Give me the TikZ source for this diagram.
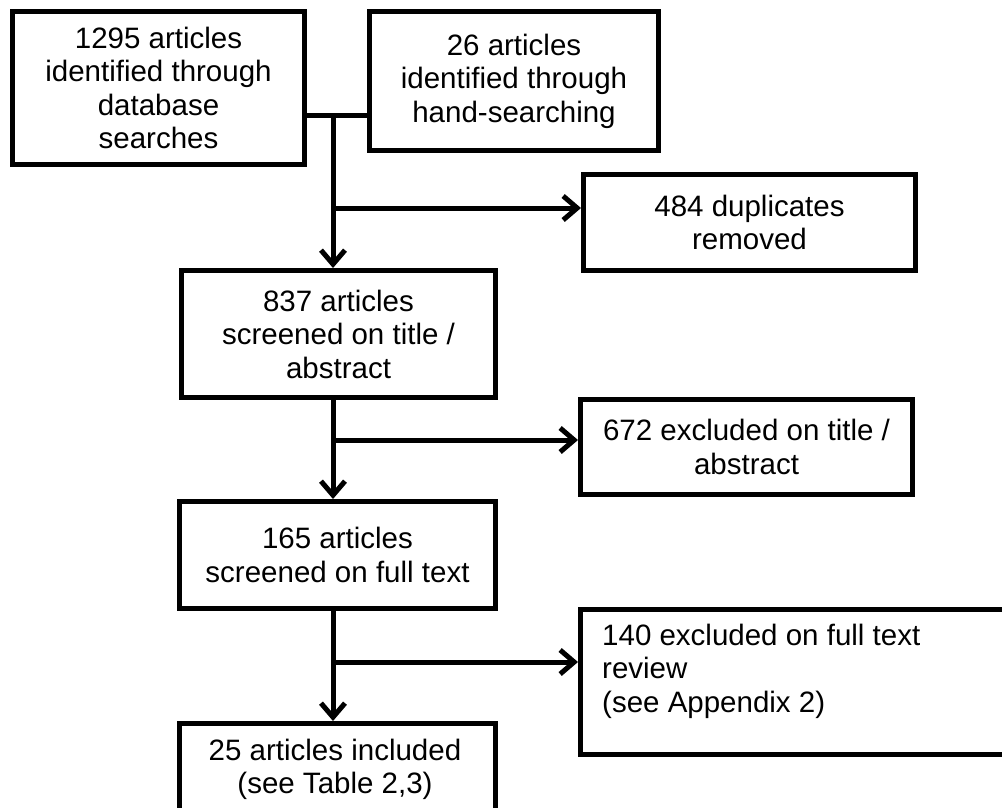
\documentclass[tikz,border=0pt]{standalone}
\usepackage{fontspec}
\setmainfont{Liberation Sans}
\usetikzlibrary{arrows.meta}
\begin{document}
\begin{tikzpicture}[x=1pt,y=-1pt,
  box/.style={draw, line width=5pt, inner sep=0pt, align=center, anchor=north west,
    font=\fontsize{29.5}{33.5}\selectfont},
  txt/.style={inner sep=0pt, font=\fontsize{29.5}{33.5}\selectfont},
  conn/.style={line width=5pt},
  arr/.style={conn, -{Straight Barb[length=14pt,width=24pt,line width=5pt]}}]
\useasboundingbox (0,0) rectangle (1002,807);
\node[box, minimum width=292pt, minimum height=153pt] (b1) at (10,9)
  {1295 articles\\identified through\\database\\searches};
\node[box, minimum width=289pt, minimum height=139pt] (b2) at (367,9)
  {26 articles\\identified through\\hand-searching};
\node[box, minimum width=332pt, minimum height=96pt] (b484) at (581,172)
  {484 duplicates\\removed};
\node[box, minimum width=314pt, minimum height=127pt] (b3) at (179,268)
  {837 articles\\screened on title /\\abstract};
\node[box, minimum width=332pt, minimum height=95pt] (b672) at (578,397)
  {672 excluded on title /\\abstract};
\node[box, minimum width=316pt, minimum height=107pt] (b4) at (177,499)
  {165 articles\\screened on full text};
\node[box, minimum width=460pt, minimum height=145pt] (b140) at (578,607) {};
\node[txt, anchor=north west, align=left] (t140) at (602,623.5)
  {140 excluded on full text\\review\\(see Appendix 2)};
\node[box, minimum width=316pt, minimum height=120pt] (b6) at (177,721) {};
\node[txt, anchor=north, align=center] (t6) at (335,738.5)
  {25 articles included\\(see Table 2,3)};
\coordinate (j1) at (333,115);
\coordinate (k1) at (333,208);
\coordinate (k2) at (333,440);
\coordinate (k3) at (333,662);
\draw[conn] (j1 -| b1.east) -- (j1 -| b2.west);
\draw[arr] (j1) -- (j1 |- b3.north);
\draw[arr] (k1) -- (k1 -| b484.west);
\draw[arr] (k2 |- b3.south) -- (k2 |- b4.north);
\draw[arr] (k2) -- (k2 -| b672.west);
\draw[arr] (k3 |- b4.south) -- (k3 |- b6.north);
\draw[arr] (k3) -- (k3 -| b140.west);
\end{tikzpicture}
\end{document}
